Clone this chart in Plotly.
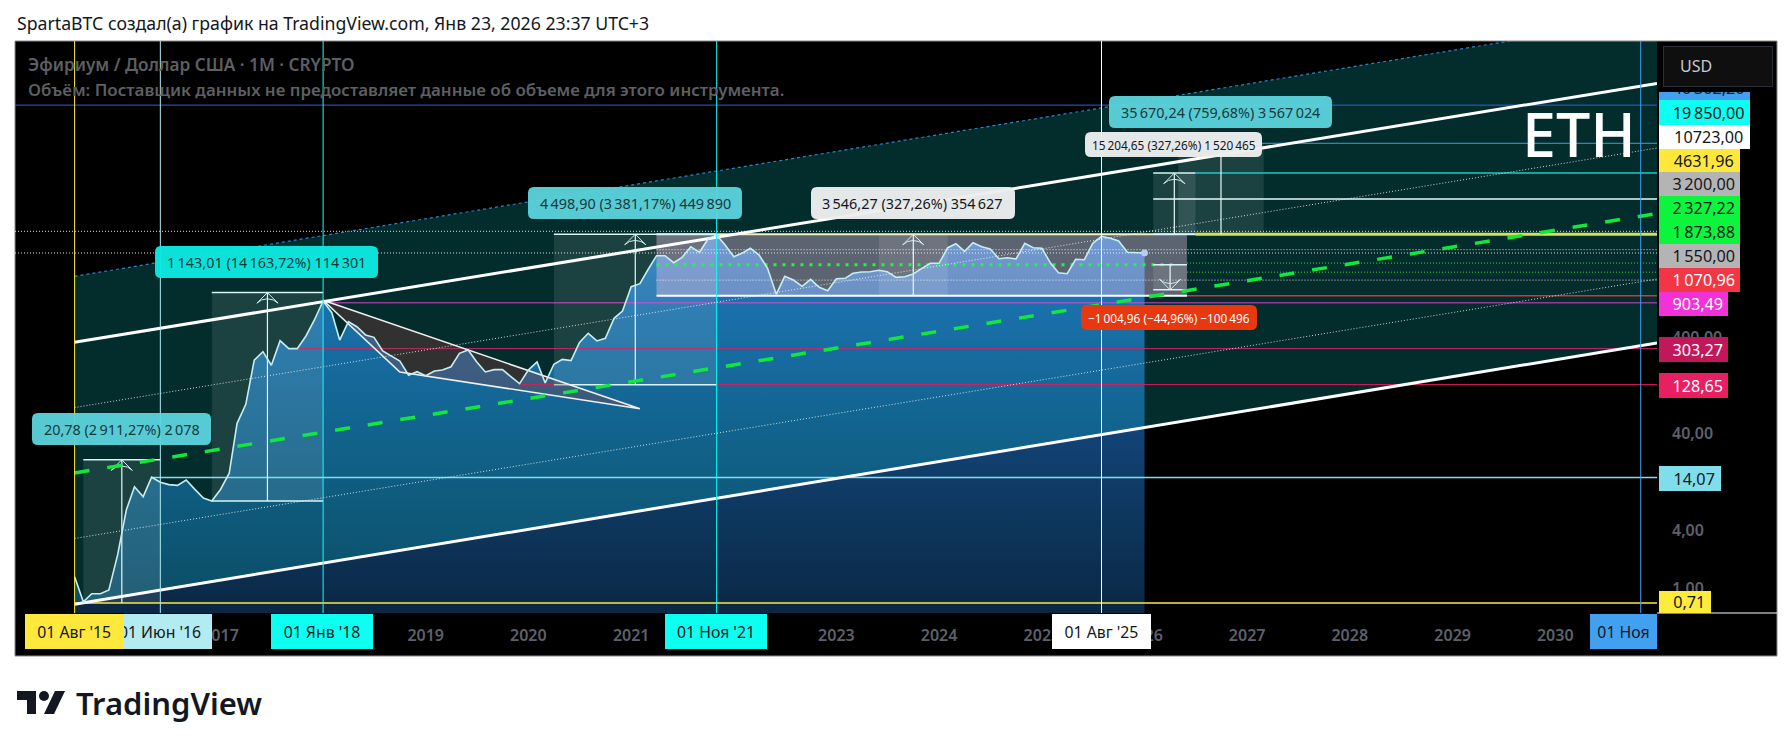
import pandas as pd
import numpy as np
import plotly.graph_objects as go

# ETHUSD monthly closes, Aug 2015 .. Jan 2026
eth_close = [
    1.33, 0.73, 0.886, 0.886, 0.968,
    2.23, 6.50, 11.3, 8.93, 14.2, 12.6, 11.9, 11.7, 13.3, 10.7, 8.65, 8.05,
    10.6, 15.6, 51.2, 80.5, 231, 282, 204, 366, 303, 303, 410, 600,
    943, 713, 372, 576, 511, 420, 397, 287, 254, 226, 161, 175,
    159, 178, 182, 197, 271, 294, 222, 174, 184, 184, 155, 132,
    182, 221, 134, 209, 235, 228, 352, 437, 364, 388, 624, 743,
    1325, 1423, 1972, 2772, 2772, 2346, 2668, 3435, 3006, 4125, 4538, 3575,
    2706, 2957, 3306, 2818, 2053, 1106, 1698, 1554, 1338, 1580, 1306, 1205,
    1603, 1618, 1823, 1880, 1893, 1958, 1893, 1657, 1681, 1793, 2053, 2312,
    2312, 3354, 3688, 3078, 3776, 3435, 3251, 2581, 2643, 2563, 3724, 3354,
    3306, 2312, 1849, 1805, 2544, 2520, 3724, 4398, 4195, 3932, 3006, 2977,
    2958,
]
months = pd.date_range('2015-08-01', periods=200, freq='MS')
close_dates = months[:len(eth_close)]

x_range = ['2015-01-01', '2030-12-29']
y_range = [-0.252, 5.663]

# channel levels at first bar and at the right edge
chan_top = [1697, 818000]
chan_upper = [352.6, 167700]
chan_75 = [74.6, 36000]
chan_mid = [15.7, 7570]
chan_25 = [3.30, 1590]
chan_lower = [0.69, 347]

# price range tools: first bar, last bar, low, high
range_first = [1, 16, 56, 68, 94, 126, 129, 126]
range_last = [10, 29, 75, 130, 102, 131, 139, 130]
range_low = [0.71, 8.05, 128.65, 1070.96, 1070.96, 4631.96, 4631.96, 1230]
range_high = [21.49, 1151, 4627.5, 4617, 4617, 19836, 40302, 2235]

# falling wedge
wedge_bars = [29, 38, 66]
wedge_prices = [960, 174, 72.5]

# horizontal levels
level_prices = [100000, 40302, 19850, 10723, 4631.96, 1070.96, 903.49, 303.27, 128.65, 14.07, 0.71]
level_first = [None, 129, 131, 126, 131, 130, 29, 26, 52, 9, 0]
dotted_prices = [4956, 2958, 3200, 1550]
dotted_first = [None, None, 68, 68]
green_prices = [2327.22, 1873.88]
green_first = [130, 130]

# vertical date lines
vline_bars = [0, 10, 29, 75, 120, 183]

year_ticks = list(range(2016, 2031))
price_ticks = [400, 40, 4, 1]
price_tick_text = ['400,00', '40,00', '4,00', '1,00']

FONT = 'Noto Sans'
L, R, T, B = 15, 1657, 41, 613


def px(x):
    return (x - L) / (R - L)


def py(y):
    return (B - y) / (B - T)


def line(xs, ys, color, width=1.0, dash=None):
    return go.Scatter(x=xs, y=ys, mode='lines', hoverinfo='skip',
                      line=dict(color=color, width=width, dash=dash))


def poly(xs, ys, color):
    return go.Scatter(x=xs, y=ys, mode='lines', fill='toself', fillcolor=color,
                      line=dict(width=0), hoverinfo='skip')


fig = go.Figure()
y_bottom, y_top = 10 ** y_range[0], 10 ** y_range[1]

# area under the price, closed along the bottom of the plot so the gradient spans the visible part
fig.add_trace(go.Scatter(
    x=list(close_dates) + [close_dates[-1], close_dates[0]], y=eth_close + [y_bottom, y_bottom],
    mode='lines', fill='toself', line=dict(width=0), hoverinfo='skip',
    fillgradient=dict(type='vertical', colorscale=[
        [0, 'rgb(10,40,68)'], [0.386, 'rgb(16,62,108)'], [0.828, 'rgb(28,84,156)'], [1, 'rgb(38,100,182)']])))

# channel body
ends = [months[0], x_range[1]]
fig.add_trace(poly([ends[0], ends[1], ends[1], ends[0]],
                   [chan_top[0], chan_top[1], chan_lower[1], chan_lower[0]],
                   'rgba(20,255,255,0.172)'))

# price range rectangles
for k in range(len(range_first)):
    a, b = months[range_first[k]], months[range_last[k]]
    lo, hi = range_low[k], range_high[k]
    fill = 'rgba(255,200,235,0.36)' if k == 3 else 'rgba(255,255,255,0.1)'
    fig.add_trace(poly([a, b, b, a], [lo, lo, hi, hi], fill))

# level lines
level_colors = ['#2a62e0', '#3ba0e0', '#1fc8c8', '#e8f8f8', '#d4e157', '#d83040',
                'rgba(240,70,220,0.6)', '#c8286e', '#e8175d', '#7be0f0', '#ffe83c']
level_widths = [1, 1, 1.5, 1.5, 3, 1.5, 1.5, 1, 1, 1.5, 1.5]
for p, first, c, w in zip(level_prices, level_first, level_colors, level_widths):
    start = x_range[0] if first is None else months[first]
    fig.add_trace(line([start, x_range[1]], [p, p], c, w))
# same 4631 level runs on thin inside the box
fig.add_trace(line([months[68], months[131]], [4631.96, 4631.96], '#f0f0b8', 2))
for p, first in zip(dotted_prices, dotted_first):
    start = x_range[0] if first is None else months[first]
    fig.add_trace(line([start, x_range[1]], [p, p], 'rgba(255,255,255,0.85)', 1, '1px,2px'))
for p, first in zip(green_prices, green_first):
    fig.add_trace(line([months[first], x_range[1]], [p, p], '#12e83c', 1, '1px,2px'))
fig.add_trace(line([months[68], months[129]], [2235, 2235], '#12ff3c', 3, '3px,6px'))

# range tool edges and arrows
for k in [0, 1, 2, 5, 7]:
    a, b = months[range_first[k]], months[range_last[k]]
    fig.add_trace(line([a, b], [range_high[k], range_high[k]], '#d8f4f4', 1.5))
    if k != 0:
        fig.add_trace(line([a, b], [range_low[k], range_low[k]], '#d8f4f4', 1.5))
fig.add_trace(line([months[68], months[130]], [1070.96, 1070.96], '#ffffff', 2))
for k in [0, 1, 2, 4, 5, 6, 7]:
    a, b = months[range_first[k]], months[range_last[k]]
    mid = a + (b - a) / 2
    fig.add_trace(line([mid, mid], [range_low[k], range_high[k]], '#e8f8f8', 1.2))
    if k != 6:
        tip = range_low[k] if k == 7 else range_high[k]
        fig.add_trace(go.Scatter(x=[mid], y=[tip], mode='markers', hoverinfo='skip', marker=dict(
            symbol='arrow-wide-open', size=15, angle=180 if k == 7 else 0, color='#cfeeee',
            line=dict(color='#cfeeee', width=1))))

# wedge
wx = [months[i] for i in wedge_bars]
fig.add_trace(go.Scatter(x=wx + [wx[0]], y=wedge_prices + [wedge_prices[0]], mode='lines', fill='toself',
                         fillcolor='rgba(157,63,63,0.3)', hoverinfo='skip',
                         line=dict(color='#f0f0f0', width=1.6)))

# channel lines
fig.add_trace(line(ends, chan_top, '#2a86c8', 1.2, '3px,3px'))
fig.add_trace(line(ends, chan_75, 'rgba(255,255,255,0.8)', 1, '1px,2px'))
fig.add_trace(line(ends, chan_25, 'rgba(255,255,255,0.8)', 1, '1px,2px'))
fig.add_trace(line(ends, chan_mid, '#10e83c', 3.5, '15px,18px'))
fig.add_trace(line(ends, chan_upper, '#ffffff', 3))
fig.add_trace(line(ends, chan_lower, '#ffffff', 3))

# price line and last point
fig.add_trace(line(close_dates, eth_close, '#c6eef2', 1.6))
fig.add_trace(go.Scatter(x=[close_dates[-1]], y=[eth_close[-1]], mode='markers', hoverinfo='skip',
                         marker=dict(size=7, color='#b8cdea')))

# date lines
vline_colors = ['#ffe83c', '#b2ebf2', '#12fff7', '#12fff7', '#ffffff', '#42a0f0']
for i, c in zip(vline_bars, vline_colors):
    fig.add_trace(line([months[i], months[i]], [y_bottom, y_top], c, 1))


def rbox(x0, y0, x1, y1, color, r=6):
    return dict(type='path', xref='paper', yref='paper', layer='above', fillcolor=color, line=dict(width=0),
                path=(f'M{px(x0 + r)},{py(y0)} L{px(x1 - r)},{py(y0)} Q{px(x1)},{py(y0)} {px(x1)},{py(y0 + r)} '
                      f'L{px(x1)},{py(y1 - r)} Q{px(x1)},{py(y1)} {px(x1 - r)},{py(y1)} '
                      f'L{px(x0 + r)},{py(y1)} Q{px(x0)},{py(y1)} {px(x0)},{py(y1 - r)} '
                      f'L{px(x0)},{py(y0 + r)} Q{px(x0)},{py(y0)} {px(x0 + r)},{py(y0)} Z'))


# white page, black chart panel, frame
shapes = [
    dict(type='rect', xref='paper', yref='paper', layer='below', x0=px(15), x1=px(1777), y0=py(656), y1=py(41),
         fillcolor='#000000', line=dict(color='#8a8a8a', width=1)),
    dict(type='line', xref='paper', yref='paper', layer='above', x0=px(1657), x1=px(1777), y0=py(613), y1=py(613),
         line=dict(color='#ffffff', width=1)),
    # TradingView mark
    dict(type='path', xref='paper', yref='paper', layer='above', fillcolor='#131722', line=dict(width=0),
         path=f'M{px(17)},{py(691)} L{px(36)},{py(691)} L{px(36)},{py(714)} L{px(27)},{py(714)} '
              f'L{px(27)},{py(700)} L{px(17)},{py(700)} Z'),
    dict(type='circle', xref='paper', yref='paper', layer='above', fillcolor='#131722', line=dict(width=0),
         x0=px(39), x1=px(49), y0=py(701), y1=py(691)),
    dict(type='path', xref='paper', yref='paper', layer='above', fillcolor='#131722', line=dict(width=0),
         path=f'M{px(55)},{py(691)} L{px(65)},{py(691)} L{px(54)},{py(714)} L{px(44)},{py(714)} Z'),
]

# range tool labels: box and text
labels = [
    (32, 413, 211, 445, 'rgba(92,212,220,0.95)', '20,78 (2\u2009911,27%) 2\u2009078', '#17393e', 14.4),
    (155, 246, 378, 278, 'rgba(12,232,224,0.97)', '1\u2009143,01 (14\u2009163,72%) 114\u2009301', '#0f3a3c', 14.4),
    (528, 187, 742, 219, 'rgba(92,212,220,0.95)', '4\u2009498,90 (3\u2009381,17%) 449\u2009890', '#17393e', 14.4),
    (811, 187, 1015, 219, 'rgba(236,238,238,0.97)', '3\u2009546,27 (327,26%) 354\u2009627', '#131722', 14.4),
    (1109, 96, 1332, 128, 'rgba(92,212,220,0.95)', '35\u2009670,24 (759,68%) 3\u2009567\u2009024', '#17393e', 14.4),
    (1085, 132, 1262, 157, 'rgba(236,238,238,0.97)', '15\u2009204,65 (327,26%) 1\u2009520\u2009465', '#131722', 11.8),
    (1081, 305, 1257, 330, 'rgba(232,56,16,1)', '\u22121\u2009004,96 (\u221244,96%) \u2212100\u2009496', '#ffffff', 11.8),
]
annotations = []


def note(x, y, text, size, color, anchor='left', weight=None, family=FONT):
    annotations.append(dict(xref='paper', yref='paper', x=px(x), y=py(y), text=text, showarrow=False, xanchor=anchor,
                            yanchor='middle', font=dict(family=family, size=size, color=color, weight=weight)))


def tag(x0, x1, y0, y1, text, bg, fg, size=15.8, border=None):
    annotations.append(dict(xref='paper', yref='paper', x=px(x0), y=py((y0 + y1) / 2), text=text, showarrow=False,
                            xanchor='left', yanchor='middle', width=x1 - x0, height=y1 - y0, bgcolor=bg,
                            bordercolor=border, borderwidth=1 if border else 0,
                            borderpad=0, align='center', font=dict(family=FONT, size=size, color=fg)))


def price_tag(x1, y0, y1, text, bg, fg):
    # price tags sit right of centre in their box
    tag(1659, x1, y0, y1, '&nbsp;&nbsp;' + text, bg, fg, 16.2)


for x0, y0, x1, y1, bg, text, fg, size in labels:
    shapes.append(rbox(x0, y0, x1, y1, bg))
    note((x0 + x1) / 2, (y0 + y1) / 2, text, size, fg, 'center')

# header and legend
note(15, 23, 'SpartaBTC создал(а) график на TradingView.com, Янв 23, 2026 23:37 UTC+3', 17.7, '#131722')
note(26, 64, 'Эфириум / Доллар США · 1M · CRYPTO', 17.2, '#5d5f63', weight=600)
note(26, 90, 'Объём: Поставщик данных не предоставляет данные об объеме для этого инструмента.', 16.9, '#5d5f63', weight=600)
note(1520, 133, 'ETH', 61, '#ffffff', weight=500)
note(74, 703, 'TradingView', 31, '#131722', weight=600)

# price axis tags, stacked as on the chart
price_tag(1750, 76, 100, '40\u2009302,20', '#42a0f0', '#131722')
tag(1658, 1776, 42, 92, ' ', '#000000', '#000000')
tag(1663, 1771, 47, 86, ' ', '#0f0f0f', '#0f0f0f', border='#2a2e39')
note(1678, 66, 'USD', 16, '#c8cad0')
price_tag(1750, 100, 125, '19\u2009850,00', '#0cfff0', '#131722')
price_tag(1750, 125, 149, '10723,00', '#ffffff', '#131722')
price_tag(1740, 149, 172.5, '4631,96', '#ffe83c', '#131722')
price_tag(1740, 172.5, 196, '3\u2009200,00', '#b4b4b4', '#131722')
price_tag(1740, 196, 220, '2\u2009327,22', '#0cf53c', '#131722')
price_tag(1740, 220, 244, '1\u2009873,88', '#0cf53c', '#131722')
price_tag(1740, 244, 268, '1\u2009550,00', '#b4b4b4', '#131722')
price_tag(1740, 268, 292, '1\u2009070,96', '#f23645', '#ffffff')
price_tag(1728, 292, 316, '903,49', '#f032d8', '#ffffff')
price_tag(1728, 337, 362, '303,27', '#c2185b', '#ffffff')
price_tag(1728, 373, 398, '128,65', '#e91e63', '#ffffff')
price_tag(1721, 466, 491, '14,07', '#80deea', '#131722')
price_tag(1711, 591, 613, '0,71', '#ffeb3b', '#131722')

# time axis tags
tag(108, 212, 614, 649, "01 Июн '16", '#b2ebf2', '#131722')
tag(25, 123.5, 614, 649, "01 Авг '15", '#ffe83c', '#131722')
tag(271, 373, 614, 649, "01 Янв '18", '#0cfff0', '#131722')
tag(665, 767, 614, 649, "01 Ноя '21", '#0cfff0', '#131722')
tag(1052, 1151, 614, 649, "01 Авг '25", '#ffffff', '#131722')
tag(1590, 1657, 614, 649, '01 Ноя', '#42a0f0', '#131722')

fig.update_layout(
    width=1792, height=749, margin=dict(l=L, r=1792 - R, t=T, b=749 - B), showlegend=False,
    paper_bgcolor='#ffffff', plot_bgcolor='rgba(0,0,0,0)', shapes=shapes, annotations=annotations,
    xaxis=dict(type='date', range=x_range, showgrid=False, zeroline=False, showline=False, ticks='',
               tickvals=[f'{y}-01-01' for y in year_ticks], ticktext=[str(y) for y in year_ticks],
               ticklabelstandoff=11, tickfont=dict(family=FONT, size=16, color='#5d606b', weight=600)),
    yaxis=dict(type='log', range=y_range, side='right', showgrid=False, zeroline=False, showline=False, ticks='',
               tickvals=price_ticks, ticktext=price_tick_text, ticklabelstandoff=14,
               tickfont=dict(family=FONT, size=16, color='#5d606b', weight=600)),
)

fig.write_html('out.html', config=dict(displayModeBar=False), post_script="document.body.style.margin='0';")
